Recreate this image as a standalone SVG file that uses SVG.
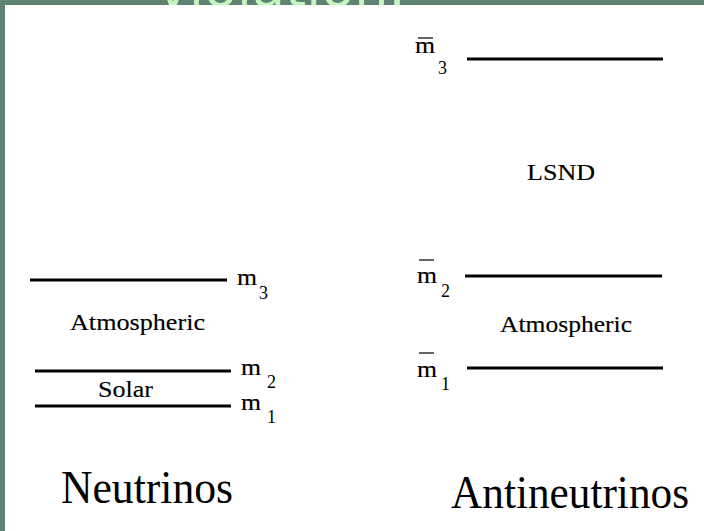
<svg xmlns="http://www.w3.org/2000/svg" width="704" height="531" viewBox="0 0 704 531">
<style>
.lvl{stroke:#000;stroke-width:3;fill:none}
.bar{stroke:#333;stroke-width:1.5}
.t{font-family:"Liberation Serif","Times New Roman",serif;fill:#000}
.m{font-size:24px;stroke:#000;stroke-width:0.2}
.sub{font-size:18px}
.lbl{font-size:24px;stroke:#000;stroke-width:0.15}
.big{font-size:46px}
</style>
<rect x="0" y="0" width="704" height="531" fill="#5f8272"/>
<text x="157" y="6" font-family="DejaVu Sans, sans-serif" font-size="54" fill="#c4f7c0">violation.</text>
<rect x="5" y="5" width="699" height="526" fill="#fff"/>

<g id="nu-m3">
<line class="lvl" x1="30" y1="280" x2="227" y2="280"/>
<text class="t m" x="237" y="285" textLength="20" lengthAdjust="spacingAndGlyphs">m</text><text class="t sub" x="259" y="299">3</text>
</g>
<g id="nu-m2">
<line class="lvl" x1="35" y1="371" x2="231" y2="371"/>
<text class="t m" x="241" y="375" textLength="20" lengthAdjust="spacingAndGlyphs">m</text><text class="t sub" x="267" y="388">2</text>
</g>
<g id="nu-m1">
<line class="lvl" x1="35" y1="406" x2="231" y2="406"/>
<text class="t m" x="241" y="410" textLength="20" lengthAdjust="spacingAndGlyphs">m</text><text class="t sub" x="267" y="423">1</text>
</g>
<g id="nu-atm"><text class="t lbl" x="70" y="330" textLength="135" lengthAdjust="spacingAndGlyphs">Atmospheric</text></g>
<g id="nu-solar"><text class="t lbl" x="98" y="397" textLength="55" lengthAdjust="spacingAndGlyphs">Solar</text></g>
<g id="nu-title"><text class="t big" x="61" y="503" textLength="172" lengthAdjust="spacingAndGlyphs">Neutrinos</text></g>

<g id="anu-m3">
<line class="lvl" x1="467" y1="59" x2="663" y2="59"/>
<line class="bar" x1="418" y1="38" x2="433" y2="38"/>
<text class="t m" x="415" y="53" textLength="20" lengthAdjust="spacingAndGlyphs">m</text><text class="t sub" x="438" y="74">3</text>
</g>
<g id="anu-m2">
<line class="lvl" x1="465" y1="276" x2="662" y2="276"/>
<line class="bar" x1="419" y1="260" x2="434" y2="260"/>
<text class="t m" x="417" y="283" textLength="20" lengthAdjust="spacingAndGlyphs">m</text><text class="t sub" x="441" y="297">2</text>
</g>
<g id="anu-m1">
<line class="lvl" x1="467" y1="368" x2="663" y2="368"/>
<line class="bar" x1="419" y1="353" x2="434" y2="353"/>
<text class="t m" x="417" y="377" textLength="20" lengthAdjust="spacingAndGlyphs">m</text><text class="t sub" x="441" y="390">1</text>
</g>
<g id="anu-lsnd"><text class="t lbl" x="527" y="180" textLength="68" lengthAdjust="spacingAndGlyphs">LSND</text></g>
<g id="anu-atm"><text class="t lbl" x="500" y="332" textLength="132" lengthAdjust="spacingAndGlyphs">Atmospheric</text></g>
<g id="anu-title"><text class="t big" x="451" y="508" textLength="238" lengthAdjust="spacingAndGlyphs">Antineutrinos</text></g>
</svg>
